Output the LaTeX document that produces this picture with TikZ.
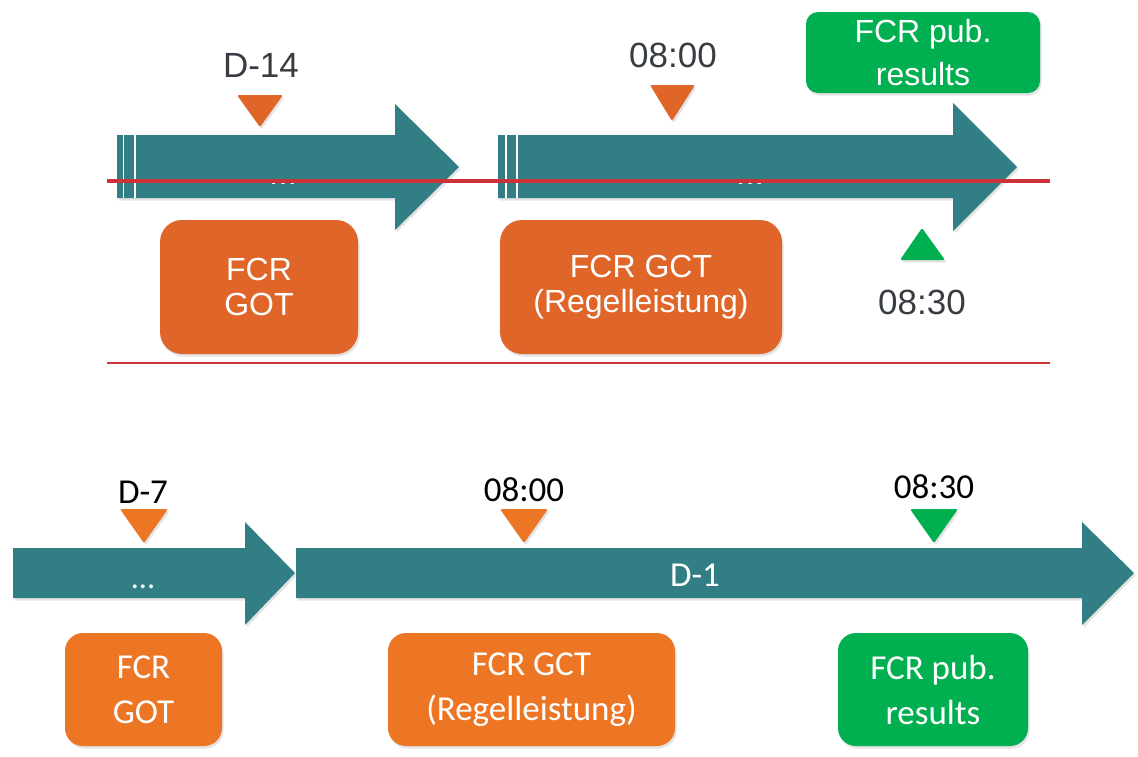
\documentclass[tikz,border=0pt]{standalone}
\usepackage{fontspec}
\setmainfont{Liberation Sans}
\newfontfamily\calibfont{Carlito}
\usetikzlibrary{shadows}
\definecolor{arrowteal}{RGB}{49,127,132}
\definecolor{orTop}{RGB}{223,101,40}
\definecolor{orBot}{RGB}{237,118,37}
\definecolor{grn}{RGB}{0,176,80}
\definecolor{redline}{RGB}{205,50,56}
\definecolor{lblgray}{RGB}{55,60,66}
\begin{document}
\begin{tikzpicture}[x=1pt,y=-1pt,
  shad/.style={drop shadow={shadow xshift=1.5pt,shadow yshift=-2.5pt,opacity=0.22}},
  tbox/.style={rectangle,rounded corners=22pt,text=white,align=center,inner sep=0pt,shad,
    font=\fontsize{32}{35}\selectfont},
  tgbox/.style={rectangle,rounded corners=12pt,text=white,align=center,inner sep=0pt,shad,
    font=\fontsize{32}{43}\selectfont},
  bbox/.style={rectangle,rounded corners=18pt,text=white,align=center,inner sep=0pt,shad,
    font=\calibfont\fontsize{35}{45}\selectfont},
  tlabel/.style={text=lblgray,inner sep=0pt,font=\fontsize{35}{40}\selectfont},
  blabel/.style={text=black,inner sep=0pt,font=\calibfont\fontsize{35}{40}\selectfont},
  tri/.style={rounded corners=1.5pt,shad}]
\useasboundingbox (0,0) rectangle (1138,756);

% ---------- top section ----------
\fill[arrowteal,shad] (117,135) -- (395,135) -- (395,104) -- (459,167) -- (395,230) -- (395,198) -- (117,198) -- cycle;
\draw[white,line width=1.2pt] (123.5,135) -- (123.5,198) (135,135) -- (135,198);
\fill[arrowteal,shad] (498,135) -- (953,135) -- (953,103) -- (1017,167) -- (953,231) -- (953,198) -- (498,198) -- cycle;
\draw[white,line width=1.2pt] (506,135) -- (506,198) (517,135) -- (517,198);
\node[text=white,anchor=base,inner sep=0pt,font=\fontsize{34}{35}\selectfont] (dotsA) at (283,184) {...};
\node[text=white,anchor=base,inner sep=0pt,font=\fontsize{34}{35}\selectfont] (dotsB) at (750,184) {...};

\coordinate (rl1) at (107,181);
\coordinate (rl2) at (1050,181);
\draw[redline,line width=3.6pt] (rl1) -- (rl2);
\coordinate (tl1) at (107,363);
\coordinate (tl2) at (1050,363);
\draw[redline,line width=1.1pt] (tl1) -- (tl2);

\fill[orTop,tri] (237,95) -- (283,95) -- (260,127) -- cycle;
\fill[orTop,tri] (650,85) -- (695,85) -- (672,121) -- cycle;
\fill[grn,tri] (900,260) -- (945,260) -- (922,228) -- cycle;

\node[tlabel] (d14) at (261,65) {D-14};
\node[tlabel] (t0800a) at (673,55) {08:00};
\node[tlabel] (t0830a) at (922,302) {08:30};

\node[tbox,fill=orTop,minimum width=198pt,minimum height=134pt] (gotA) at (259,287) {\raisebox{-2pt}{\parbox{190pt}{\centering FCR\\GOT}}};
\node[tbox,fill=orTop,minimum width=282pt,minimum height=134pt] (gctA) at (641,287) {\raisebox{-2pt}{\parbox{270pt}{\centering FCR GCT\\(Regelleistung)}}};
\node[tgbox,fill=grn,minimum width=234pt,minimum height=81pt] (pubA) at (923,52.5) {FCR pub.\\results};

% ---------- bottom section ----------
\fill[arrowteal,shad] (13,548) -- (245,548) -- (245,522) -- (295,573) -- (245,625) -- (245,598) -- (13,598) -- cycle;
\fill[arrowteal,shad] (296,548) -- (1082,548) -- (1082,522) -- (1134,573) -- (1082,625) -- (1082,598) -- (296,598) -- cycle;
\node[text=white,anchor=base,inner sep=0pt,font=\calibfont\fontsize{32}{35}\selectfont] (dotsC) at (143,588) {...};
\node[text=white,inner sep=0pt,font=\calibfont\fontsize{35}{40}\selectfont] (dm1) at (695,575) {D-1};

\fill[orBot,tri] (120,509) -- (168,509) -- (144,543) -- cycle;
\fill[orBot,tri] (500,509) -- (548,509) -- (524,543) -- cycle;
\fill[grn,tri] (910,509) -- (958,509) -- (934,543) -- cycle;

\node[blabel] (d7) at (143,492) {D-7};
\node[blabel] (t0800b) at (524,490) {08:00};
\node[blabel] (t0830b) at (934,487) {08:30};

\node[bbox,fill=orBot,minimum width=157pt,minimum height=113pt] (gotB) at (143.5,689.5) {FCR\\GOT};
\node[bbox,fill=orBot,minimum width=287pt,minimum height=113pt] (gctB) at (531.5,689.5) {FCR GCT\\(Regelleistung)};
\node[bbox,fill=grn,minimum width=190pt,minimum height=113pt] (pubB) at (933,689.5) {FCR pub.\\results};
\end{tikzpicture}
\end{document}
